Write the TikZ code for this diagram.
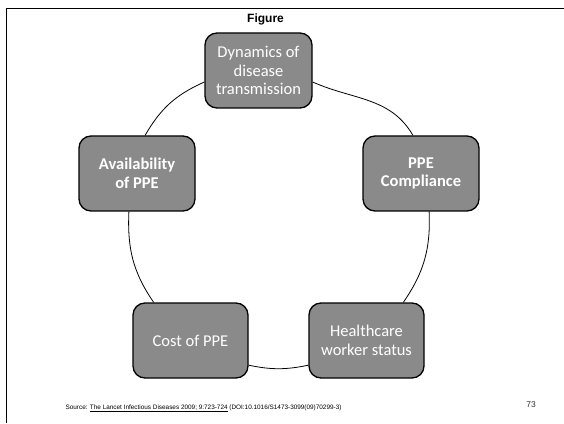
\documentclass[tikz,border=0pt]{standalone}
\usepackage{fontspec}
\setmainfont{Carlito}
\newfontfamily\arialfont{Liberation Sans}
\definecolor{boxgray}{RGB}{138,138,138}

\tikzset{
  cyclebox/.style={draw=black, line width=1.3pt, fill=boxgray, rounded corners=12pt,
    minimum width=116pt, minimum height=75pt, inner sep=2pt, text=white, align=center,
    font=\fontsize{16.5}{18.5}\selectfont},
  cyclelink/.style={line width=0.8pt},
}

\begin{document}
\begin{tikzpicture}[x=1pt,y=1pt]
\useasboundingbox (0,0) rectangle (564,423);
% slide frame
\draw[line width=1.5pt] (564,414.3) -- (6.5,414.3) -- (6.5,0);
\node[font=\arialfont\bfseries\fontsize{12}{14}\selectfont] (title) at (265.5,403.5) {Figure};

% the five factors
\node[cyclebox, minimum width=107pt] (dyn) at (258.5,352.5) {Dynamics of\\disease\\transmission};
\node[cyclebox] (avail) at (137,249.5) {\bfseries Availability\\\bfseries of PPE};
\node[cyclebox] (compl) at (421,249.5) {\bfseries PPE\\\bfseries Compliance};
\node[cyclebox, minimum width=115pt] (cost) at (190.5,82.5) {Cost of PPE};
\node[cyclebox, minimum width=115pt] (hcw) at (366.5,82.5) {Healthcare\\worker status};

% ring joining them
\draw[cyclelink] (dyn.192) to[out=204, in=60] (avail.78);
\draw[cyclelink] (dyn.348) to[out=-24, in=120] (compl.102);
\draw[cyclelink] (avail.258) to[out=267.5, in=124.5] (cost.134);
\draw[cyclelink] (compl.282) to[out=272.5, in=55.5] (hcw.46);
\draw[cyclelink] (cost.337) to[out=-11.7, in=191.7] (hcw.203);

% footer
\node[anchor=base west, font=\arialfont\fontsize{6.4}{7.5}\selectfont] (src) at (62,14)
  {Source: \underline{The Lancet Infectious Diseases 2009; 9:723-724} (DOI:10.1016/S1473-3099(09)70299-3)};
\node[font=\arialfont\fontsize{8.5}{10}\selectfont, text=black!80] (pagenum) at (531,18.5) {73};
\end{tikzpicture}
\end{document}
